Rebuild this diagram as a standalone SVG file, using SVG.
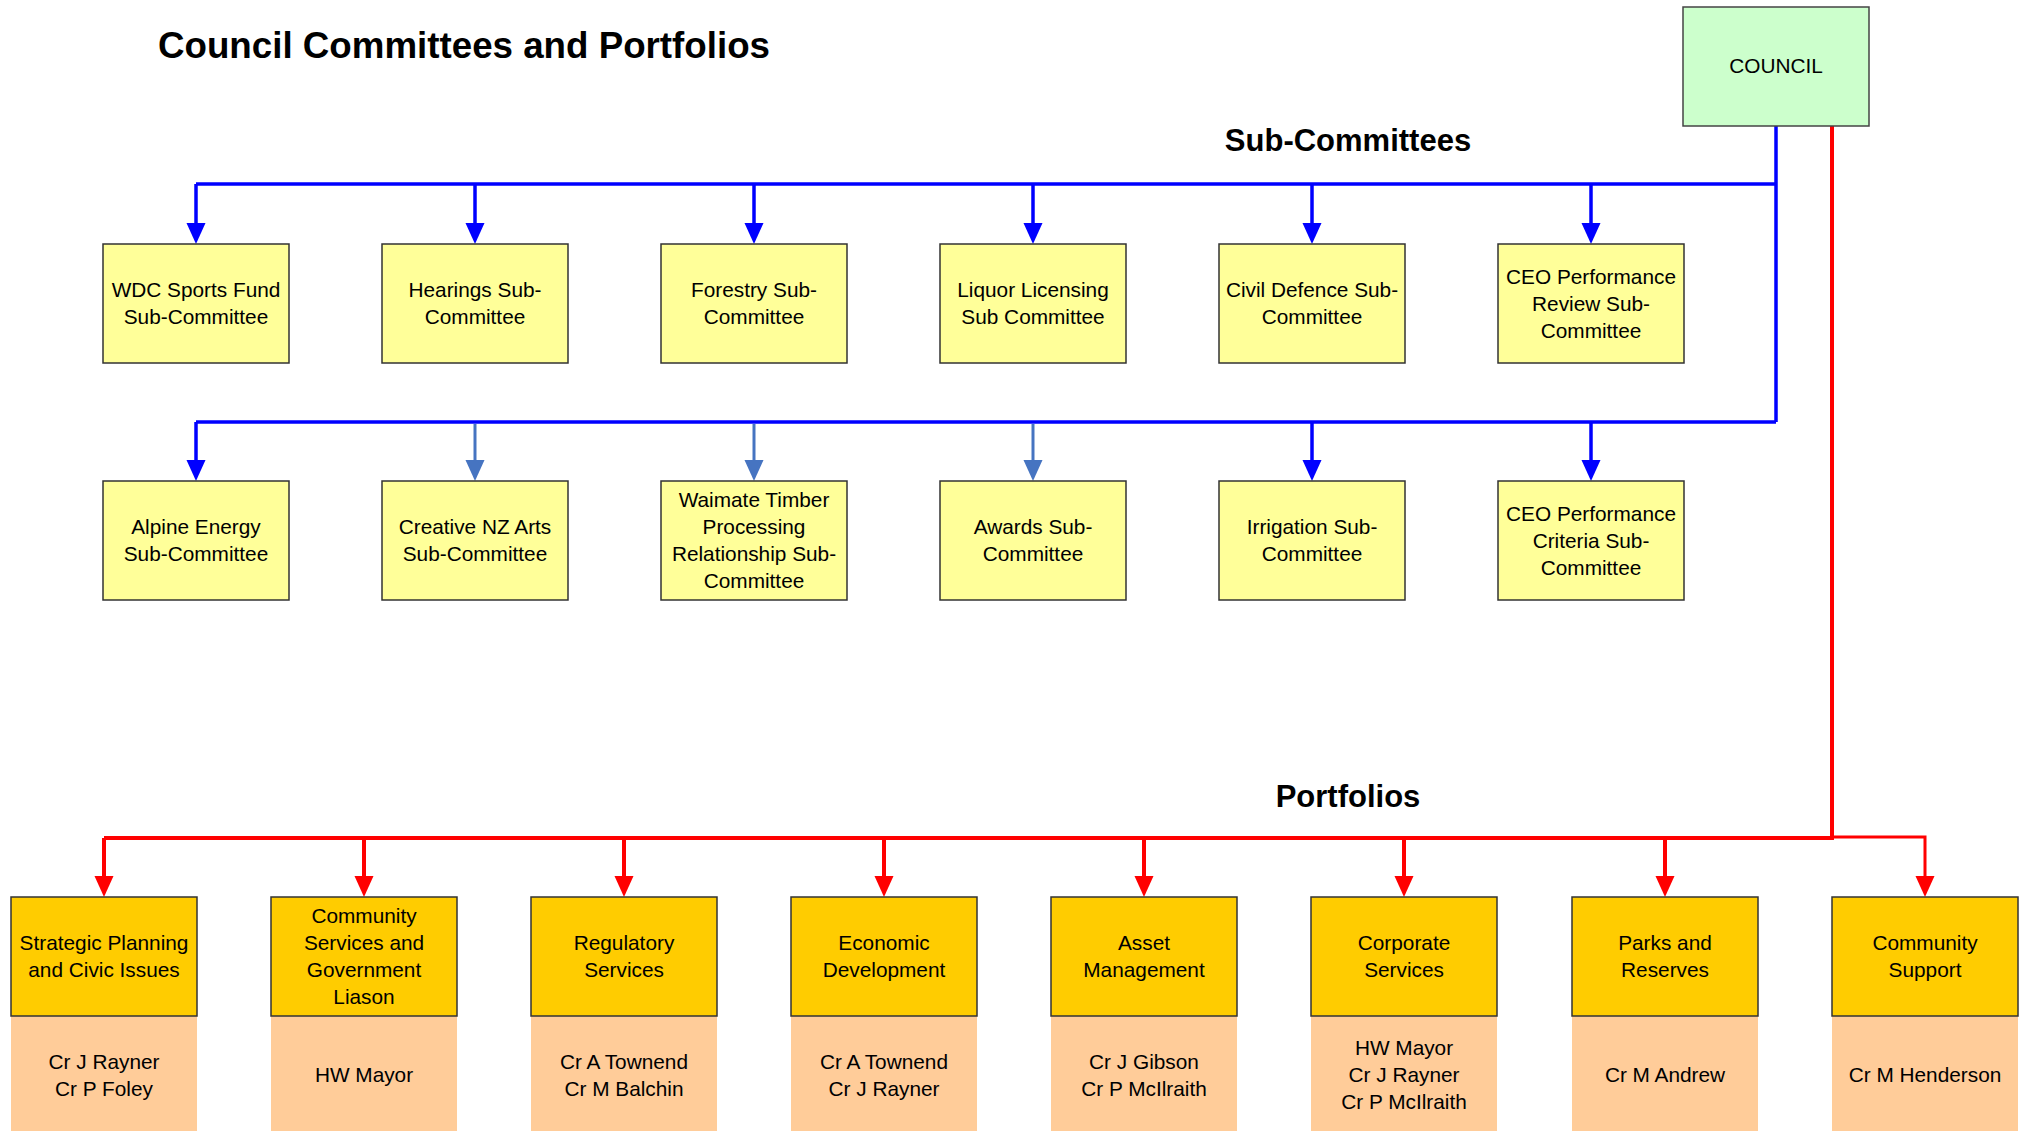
<svg xmlns="http://www.w3.org/2000/svg" width="2025" height="1131" viewBox="0 0 2025 1131">
<style>
text{font-family:"Liberation Sans",Arial,sans-serif;fill:#000}
.t{font-size:20.8px;text-anchor:middle}
.h{font-size:31px;font-weight:bold;text-anchor:middle}
.sub{fill:#FFFF99;stroke:#333;stroke-width:1.5}
.port{fill:#FFCC00;stroke:#333;stroke-width:1.5}
.mem{fill:#FFCC99;stroke:none}
.bl{stroke:#0000FF;stroke-width:3.5;fill:none}
.lb{stroke:#4674C1;stroke-width:3;fill:none}
.rd{stroke:#FF0000;stroke-width:4;fill:none}
.rd2{stroke:#FF0000;stroke-width:3;fill:none}
</style>
<defs>
<marker id="ab" markerUnits="userSpaceOnUse" markerWidth="22" markerHeight="22" refX="0" refY="0" orient="auto" overflow="visible"><path d="M-1,-9.5 L20,0 L-1,9.5 Z" fill="#0000FF"/></marker>
<marker id="al" markerUnits="userSpaceOnUse" markerWidth="22" markerHeight="22" refX="0" refY="0" orient="auto" overflow="visible"><path d="M-1,-9.5 L20,0 L-1,9.5 Z" fill="#4674C1"/></marker>
<marker id="ar" markerUnits="userSpaceOnUse" markerWidth="22" markerHeight="22" refX="0" refY="0" orient="auto" overflow="visible"><path d="M-1,-9.5 L20,0 L-1,9.5 Z" fill="#FF0000"/></marker>
</defs>
<rect width="2025" height="1131" fill="#fff"/>
<text x="158" y="58" style="font-size:37px;font-weight:bold" textLength="612" lengthAdjust="spacingAndGlyphs">Council Committees and Portfolios</text>
<text class="h" x="1348" y="151">Sub-Committees</text>
<text class="h" x="1348" y="807">Portfolios</text>

<g id="connectors">
<path class="bl" d="M1776,126 V422 M196,184 H1776 M196,422 H1776"/>
<path class="bl" d="M196,184 V224" marker-end="url(#ab)"/>
<path class="bl" d="M475,184 V224" marker-end="url(#ab)"/>
<path class="bl" d="M754,184 V224" marker-end="url(#ab)"/>
<path class="bl" d="M1033,184 V224" marker-end="url(#ab)"/>
<path class="bl" d="M1312,184 V224" marker-end="url(#ab)"/>
<path class="bl" d="M1591,184 V224" marker-end="url(#ab)"/>
<path class="bl" d="M196,422 V461" marker-end="url(#ab)"/>
<path class="lb" d="M475,424 V461" marker-end="url(#al)"/>
<path class="lb" d="M754,424 V461" marker-end="url(#al)"/>
<path class="lb" d="M1033,424 V461" marker-end="url(#al)"/>
<path class="bl" d="M1312,422 V461" marker-end="url(#ab)"/>
<path class="bl" d="M1591,422 V461" marker-end="url(#ab)"/>
<path class="rd" d="M1832,126 V838 M104,838 H1834"/>
<path class="rd" d="M104,838 V877" marker-end="url(#ar)"/>
<path class="rd" d="M364,838 V877" marker-end="url(#ar)"/>
<path class="rd" d="M624,838 V877" marker-end="url(#ar)"/>
<path class="rd" d="M884,838 V877" marker-end="url(#ar)"/>
<path class="rd" d="M1144,838 V877" marker-end="url(#ar)"/>
<path class="rd" d="M1404,838 V877" marker-end="url(#ar)"/>
<path class="rd" d="M1665,838 V877" marker-end="url(#ar)"/>
<path class="rd2" d="M1832,837 H1925 V877" marker-end="url(#ar)"/>
</g>

<g id="council">
<rect x="1683" y="7" width="186" height="119" fill="#CCFFCC" stroke="#444" stroke-width="1.5"/>
<text class="t" x="1776" y="73">COUNCIL</text>
</g>

<g id="sub-wdc"><rect class="sub" x="103" y="244" width="186" height="119"/><text class="t" x="196" y="297">WDC Sports Fund</text><text class="t" x="196" y="324">Sub-Committee</text></g>
<g id="sub-hearings"><rect class="sub" x="382" y="244" width="186" height="119"/><text class="t" x="475" y="297">Hearings Sub-</text><text class="t" x="475" y="324">Committee</text></g>
<g id="sub-forestry"><rect class="sub" x="661" y="244" width="186" height="119"/><text class="t" x="754" y="297">Forestry Sub-</text><text class="t" x="754" y="324">Committee</text></g>
<g id="sub-liquor"><rect class="sub" x="940" y="244" width="186" height="119"/><text class="t" x="1033" y="297">Liquor Licensing</text><text class="t" x="1033" y="324">Sub Committee</text></g>
<g id="sub-civil"><rect class="sub" x="1219" y="244" width="186" height="119"/><text class="t" x="1312" y="297">Civil Defence Sub-</text><text class="t" x="1312" y="324">Committee</text></g>
<g id="sub-ceo-review"><rect class="sub" x="1498" y="244" width="186" height="119"/><text class="t" x="1591" y="283.5">CEO Performance</text><text class="t" x="1591" y="310.5">Review Sub-</text><text class="t" x="1591" y="337.5">Committee</text></g>

<g id="sub-alpine"><rect class="sub" x="103" y="481" width="186" height="119"/><text class="t" x="196" y="534">Alpine Energy</text><text class="t" x="196" y="561">Sub-Committee</text></g>
<g id="sub-creative"><rect class="sub" x="382" y="481" width="186" height="119"/><text class="t" x="475" y="534">Creative NZ Arts</text><text class="t" x="475" y="561">Sub-Committee</text></g>
<g id="sub-waimate"><rect class="sub" x="661" y="481" width="186" height="119"/><text class="t" x="754" y="507">Waimate Timber</text><text class="t" x="754" y="534">Processing</text><text class="t" x="754" y="561">Relationship Sub-</text><text class="t" x="754" y="588">Committee</text></g>
<g id="sub-awards"><rect class="sub" x="940" y="481" width="186" height="119"/><text class="t" x="1033" y="534">Awards Sub-</text><text class="t" x="1033" y="561">Committee</text></g>
<g id="sub-irrigation"><rect class="sub" x="1219" y="481" width="186" height="119"/><text class="t" x="1312" y="534">Irrigation Sub-</text><text class="t" x="1312" y="561">Committee</text></g>
<g id="sub-ceo-criteria"><rect class="sub" x="1498" y="481" width="186" height="119"/><text class="t" x="1591" y="520.5">CEO Performance</text><text class="t" x="1591" y="547.5">Criteria Sub-</text><text class="t" x="1591" y="574.5">Committee</text></g>

<g id="port-strategic"><rect class="mem" x="11" y="1016" width="186" height="116"/><rect class="port" x="11" y="897" width="186" height="119"/><text class="t" x="104" y="950">Strategic Planning</text><text class="t" x="104" y="977">and Civic Issues</text><text class="t" x="104" y="1068.5">Cr J Rayner</text><text class="t" x="104" y="1095.5">Cr P Foley</text></g>
<g id="port-community-services"><rect class="mem" x="271" y="1016" width="186" height="116"/><rect class="port" x="271" y="897" width="186" height="119"/><text class="t" x="364" y="923">Community</text><text class="t" x="364" y="950">Services and</text><text class="t" x="364" y="977">Government</text><text class="t" x="364" y="1004">Liason</text><text class="t" x="364" y="1082">HW Mayor</text></g>
<g id="port-regulatory"><rect class="mem" x="531" y="1016" width="186" height="116"/><rect class="port" x="531" y="897" width="186" height="119"/><text class="t" x="624" y="950">Regulatory</text><text class="t" x="624" y="977">Services</text><text class="t" x="624" y="1068.5">Cr A Townend</text><text class="t" x="624" y="1095.5">Cr M Balchin</text></g>
<g id="port-economic"><rect class="mem" x="791" y="1016" width="186" height="116"/><rect class="port" x="791" y="897" width="186" height="119"/><text class="t" x="884" y="950">Economic</text><text class="t" x="884" y="977">Development</text><text class="t" x="884" y="1068.5">Cr A Townend</text><text class="t" x="884" y="1095.5">Cr J Rayner</text></g>
<g id="port-asset"><rect class="mem" x="1051" y="1016" width="186" height="116"/><rect class="port" x="1051" y="897" width="186" height="119"/><text class="t" x="1144" y="950">Asset</text><text class="t" x="1144" y="977">Management</text><text class="t" x="1144" y="1068.5">Cr J Gibson</text><text class="t" x="1144" y="1095.5">Cr P McIlraith</text></g>
<g id="port-corporate"><rect class="mem" x="1311" y="1016" width="186" height="116"/><rect class="port" x="1311" y="897" width="186" height="119"/><text class="t" x="1404" y="950">Corporate</text><text class="t" x="1404" y="977">Services</text><text class="t" x="1404" y="1055">HW Mayor</text><text class="t" x="1404" y="1082">Cr J Rayner</text><text class="t" x="1404" y="1109">Cr P McIlraith</text></g>
<g id="port-parks"><rect class="mem" x="1572" y="1016" width="186" height="116"/><rect class="port" x="1572" y="897" width="186" height="119"/><text class="t" x="1665" y="950">Parks and</text><text class="t" x="1665" y="977">Reserves</text><text class="t" x="1665" y="1082">Cr M Andrew</text></g>
<g id="port-community-support"><rect class="mem" x="1832" y="1016" width="186" height="116"/><rect class="port" x="1832" y="897" width="186" height="119"/><text class="t" x="1925" y="950">Community</text><text class="t" x="1925" y="977">Support</text><text class="t" x="1925" y="1082">Cr M Henderson</text></g>
</svg>
